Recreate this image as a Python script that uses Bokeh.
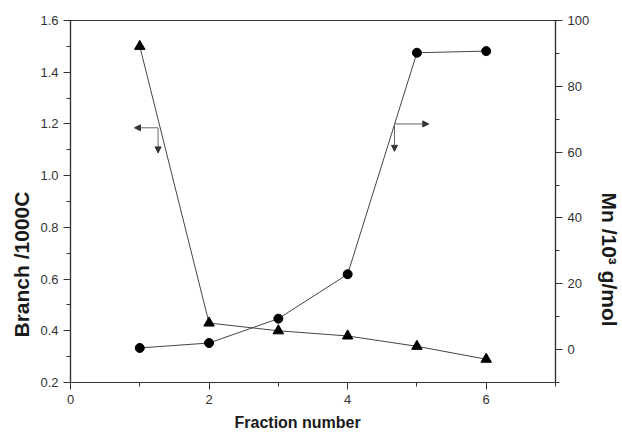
from bokeh.plotting import figure
from bokeh.models import (Range1d, LinearAxis, FixedTicker, PrintfTickFormatter,
                          Arrow, NormalHead, Title)
from bokeh.embed import file_html
from bokeh.resources import INLINE

# ---- data ----
fraction = [1, 2, 3, 4, 5, 6]
branch = [1.50, 0.43, 0.40, 0.38, 0.34, 0.29]          # Branch /1000C (left axis)
mn = [0.5, 2.0, 9.4, 22.9, 90.2, 90.7]                  # Mn /10^3 g/mol (right axis)

x_major = [0, 2, 4, 6]
x_minor = [1, 3, 5, 7]
yl_major = [0.2, 0.4, 0.6, 0.8, 1.0, 1.2, 1.4, 1.6]
yl_minor = [0.3, 0.5, 0.7, 0.9, 1.1, 1.3, 1.5]
yr_major = [0, 20, 40, 60, 80, 100]
yr_minor = [-10, 10, 30, 50, 70, 90]

x_title = "Fraction number"
yl_title = "Branch /1000C"
yr_title = "Mn   /10³ g/mol"

# annotation arrows: (corner x, corner y, horizontal tip x, vertical tip y) in left-axis units
arrow_left = (1.264, 1.185, 0.924, 1.088)
arrow_right = (4.676, 1.200, 5.171, 1.094)

AX = "#333333"
FONT = "Liberation Sans"
TXT = "#1a1a1a"

p = figure(frame_width=485, frame_height=362, x_range=Range1d(0, 7), y_range=Range1d(0.2, 1.6),
           output_backend="svg", toolbar_location=None,
           min_border_left=70, min_border_top=20, min_border_right=60, min_border_bottom=48)
p.extra_y_ranges = {"mn": Range1d(-10, 100)}
p.xgrid.visible = False
p.ygrid.visible = False
p.outline_line_color = AX
p.outline_line_width = 1.2
p.background_fill_color = "white"
p.border_fill_color = "white"

right = LinearAxis(y_range_name="mn")
p.add_layout(right, "right")

p.xaxis.ticker = FixedTicker(ticks=x_major, minor_ticks=x_minor)
p.yaxis[0].ticker = FixedTicker(ticks=yl_major, minor_ticks=yl_minor)
p.yaxis[0].formatter = PrintfTickFormatter(format="%.1f")
right.ticker = FixedTicker(ticks=yr_major, minor_ticks=yr_minor)

for ax in [p.xaxis[0], p.yaxis[0], right]:
    ax.axis_line_color = AX
    ax.axis_line_width = 1.2
    ax.major_tick_line_color = AX
    ax.minor_tick_line_color = AX
    ax.major_tick_out = 7
    ax.major_tick_in = 0
    ax.minor_tick_out = 4
    ax.minor_tick_in = 0
    ax.major_label_text_font = FONT
    ax.major_label_text_font_size = "13px"
    ax.major_label_text_color = "#333333"

# axis titles as side-panel titles, placed along the axis by an offset from the frame edge
def side_title(text, size, offset):
    return Title(text=text, align="left", offset=offset, text_font=FONT,
                 text_font_style="bold", text_font_size=size, text_color=TXT)

p.add_layout(side_title(x_title, "16px", 164), "below")
p.add_layout(side_title(yl_title, "21px", 45), "left")
p.add_layout(side_title(yr_title, "21px", 172), "right")

# series
p.line(fraction, branch, line_color="#444444", line_width=1)
p.scatter(fraction, branch, marker="triangle", size=10.5, fill_color="black", line_color="black")
p.line(fraction, mn, line_color="#444444", line_width=1, y_range_name="mn")
p.scatter(fraction, mn, marker="circle", size=9, fill_color="black", line_color="black",
          y_range_name="mn")

# annotation arrows
for cx, cy, hx, vy in (arrow_left, arrow_right):
    p.add_layout(Arrow(end=NormalHead(size=6, fill_color="#333333", line_color="#333333"),
                       x_start=cx, y_start=cy, x_end=hx, y_end=cy,
                       line_color="#666666", line_width=1))
    p.add_layout(Arrow(end=NormalHead(size=6, fill_color="#333333", line_color="#333333"),
                       x_start=cx, y_start=cy, x_end=cx, y_end=vy,
                       line_color="#666666", line_width=1))

open("out.html", "w").write(file_html(p, INLINE))
